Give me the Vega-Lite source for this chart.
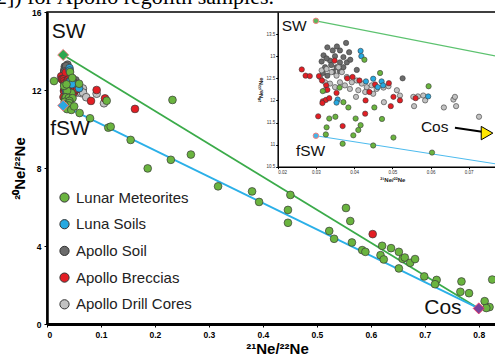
{
"$schema": "https://vega.github.io/schema/vega-lite/v6.json",
"width": 449, "height": 312,
"autosize": {"type": "none"},
"padding": {"left": 47, "top": 12, "right": 0, "bottom": 30},
"config": {"view": {"stroke": "#000", "strokeWidth": 1.5}, "axis": {"grid": false}, "font": "Liberation Sans"},
"title": {"text": "2]) for Apollo regolith samples.", "font": "Liberation Serif", "fontSize": 22, "fontWeight": "normal", "color": "#000", "anchor": "start", "frame": "group", "dx": -51, "dy": 17.5, "offset": 0, "baseline": "alphabetic"},
"datasets": {
"pts": [
{"s":"Apollo Soil","x":0.0330,"y":13.20},{"s":"Apollo Soil","x":0.0344,"y":13.13},{"s":"Apollo Soil","x":0.0363,"y":13.13},{"s":"Apollo Soil","x":0.0379,"y":13.30},{"s":"Apollo Soil","x":0.0387,"y":13.09},{"s":"Apollo Soil","x":0.0320,"y":13.02},{"s":"Apollo Soil","x":0.0337,"y":12.90},{"s":"Apollo Soil","x":0.0363,"y":12.86},{"s":"Apollo Soil","x":0.0381,"y":12.86},{"s":"Apollo Soil","x":0.0324,"y":12.75},{"s":"Apollo Soil","x":0.0354,"y":12.75},{"s":"Apollo Soil","x":0.0330,"y":12.56},{"s":"Apollo Soil","x":0.0363,"y":12.66},{"s":"Apollo Soil","x":0.0407,"y":12.69},{"s":"Apollo Soil","x":0.0527,"y":12.50},{"s":"Apollo Soil","x":0.0350,"y":13.00},{"s":"Apollo Soil","x":0.0372,"y":12.98},{"s":"Apollo Soil","x":0.0340,"y":12.80},{"s":"Apollo Soil","x":0.0315,"y":12.88},{"s":"Apollo Soil","x":0.0372,"y":12.75},{"s":"Apollo Soil","x":0.0345,"y":12.65},{"s":"Apollo Soil","x":0.0318,"y":12.62},{"s":"Apollo Soil","x":0.0390,"y":12.92},{"s":"Apollo Soil","x":0.0355,"y":13.22},{"s":"Apollo Soil","x":0.0328,"y":12.95},
{"s":"Apollo Drill Cores","x":0.0315,"y":12.68},{"s":"Apollo Drill Cores","x":0.0328,"y":12.71},{"s":"Apollo Drill Cores","x":0.0341,"y":12.64},{"s":"Apollo Drill Cores","x":0.0354,"y":12.56},{"s":"Apollo Drill Cores","x":0.0368,"y":12.64},{"s":"Apollo Drill Cores","x":0.0381,"y":12.53},{"s":"Apollo Drill Cores","x":0.0394,"y":12.41},{"s":"Apollo Drill Cores","x":0.0407,"y":12.45},{"s":"Apollo Drill Cores","x":0.0420,"y":12.38},{"s":"Apollo Drill Cores","x":0.0433,"y":12.30},{"s":"Apollo Drill Cores","x":0.0446,"y":12.34},{"s":"Apollo Drill Cores","x":0.0459,"y":12.26},{"s":"Apollo Drill Cores","x":0.0477,"y":12.29},{"s":"Apollo Drill Cores","x":0.0490,"y":12.32},{"s":"Apollo Drill Cores","x":0.0512,"y":12.23},{"s":"Apollo Drill Cores","x":0.0324,"y":12.41},{"s":"Apollo Drill Cores","x":0.0337,"y":12.38},{"s":"Apollo Drill Cores","x":0.0350,"y":12.30},{"s":"Apollo Drill Cores","x":0.0363,"y":12.41},{"s":"Apollo Drill Cores","x":0.0376,"y":12.34},{"s":"Apollo Drill Cores","x":0.0389,"y":12.26},{"s":"Apollo Drill Cores","x":0.0411,"y":12.23},{"s":"Apollo Drill Cores","x":0.0429,"y":12.19},{"s":"Apollo Drill Cores","x":0.0324,"y":12.23},{"s":"Apollo Drill Cores","x":0.0405,"y":12.08},{"s":"Apollo Drill Cores","x":0.0478,"y":11.96},{"s":"Apollo Drill Cores","x":0.0450,"y":12.15},{"s":"Apollo Drill Cores","x":0.0520,"y":12.11},{"s":"Apollo Drill Cores","x":0.0555,"y":12.08},{"s":"Apollo Drill Cores","x":0.0567,"y":12.09},{"s":"Apollo Drill Cores","x":0.0581,"y":12.11},{"s":"Apollo Drill Cores","x":0.0557,"y":11.87},{"s":"Apollo Drill Cores","x":0.0586,"y":12.00},{"s":"Apollo Drill Cores","x":0.0635,"y":11.84},{"s":"Apollo Drill Cores","x":0.0660,"y":12.02},{"s":"Apollo Drill Cores","x":0.0664,"y":12.08},{"s":"Apollo Drill Cores","x":0.0667,"y":11.87},{"s":"Apollo Drill Cores","x":0.0727,"y":11.63},{"s":"Apollo Drill Cores","x":0.0359,"y":12.75},{"s":"Apollo Drill Cores","x":0.0311,"y":12.53},{"s":"Apollo Drill Cores","x":0.092,"y":11.81},{"s":"Apollo Drill Cores","x":0.1056,"y":11.32},
{"s":"Apollo Breccias","x":0.0263,"y":12.70},{"s":"Apollo Breccias","x":0.0273,"y":12.56},{"s":"Apollo Breccias","x":0.0284,"y":12.55},{"s":"Apollo Breccias","x":0.0308,"y":12.55},{"s":"Apollo Breccias","x":0.0316,"y":12.45},{"s":"Apollo Breccias","x":0.0349,"y":12.90},{"s":"Apollo Breccias","x":0.0327,"y":12.34},{"s":"Apollo Breccias","x":0.0330,"y":12.24},{"s":"Apollo Breccias","x":0.0318,"y":11.98},{"s":"Apollo Breccias","x":0.0326,"y":12.01},{"s":"Apollo Breccias","x":0.0317,"y":11.94},{"s":"Apollo Breccias","x":0.0354,"y":12.17},{"s":"Apollo Breccias","x":0.0382,"y":12.50},{"s":"Apollo Breccias","x":0.0396,"y":12.53},{"s":"Apollo Breccias","x":0.0414,"y":12.45},{"s":"Apollo Breccias","x":0.0440,"y":12.19},{"s":"Apollo Breccias","x":0.0430,"y":12.00},{"s":"Apollo Breccias","x":0.0429,"y":11.70},{"s":"Apollo Breccias","x":0.0306,"y":11.64},{"s":"Apollo Breccias","x":0.0370,"y":11.42},{"s":"Apollo Breccias","x":0.0491,"y":12.39},{"s":"Apollo Breccias","x":0.0503,"y":12.08},{"s":"Apollo Breccias","x":0.0496,"y":11.87},{"s":"Apollo Breccias","x":0.0520,"y":12.00},{"s":"Apollo Breccias","x":0.0561,"y":12.05},{"s":"Apollo Breccias","x":0.0335,"y":12.05},{"s":"Apollo Breccias","x":0.0455,"y":12.36},{"s":"Apollo Breccias","x":0.092,"y":12.0},{"s":"Apollo Breccias","x":0.0815,"y":11.44},{"s":"Apollo Breccias","x":0.1075,"y":11.57},{"s":"Apollo Breccias","x":0.163,"y":11.03},{"s":"Apollo Breccias","x":0.6035,"y":4.61},
{"s":"Luna Soils","x":0.0417,"y":13.12},{"s":"Luna Soils","x":0.0419,"y":13.00},{"s":"Luna Soils","x":0.0450,"y":12.49},{"s":"Luna Soils","x":0.0472,"y":12.43},{"s":"Luna Soils","x":0.0431,"y":12.43},{"s":"Luna Soils","x":0.0357,"y":12.02},{"s":"Luna Soils","x":0.0594,"y":12.09},{"s":"Luna Soils","x":0.0476,"y":12.34},{"s":"Luna Soils","x":0.0354,"y":11.95},{"s":"Luna Soils","x":0.0462,"y":12.30},
{"s":"Lunar Meteorites","x":0.0427,"y":12.92},{"s":"Lunar Meteorites","x":0.0468,"y":12.62},{"s":"Lunar Meteorites","x":0.0595,"y":12.32},{"s":"Lunar Meteorites","x":0.0385,"y":11.84},{"s":"Lunar Meteorites","x":0.0453,"y":11.84},{"s":"Lunar Meteorites","x":0.0372,"y":11.96},{"s":"Lunar Meteorites","x":0.0335,"y":11.59},{"s":"Lunar Meteorites","x":0.0351,"y":11.63},{"s":"Lunar Meteorites","x":0.0404,"y":11.59},{"s":"Lunar Meteorites","x":0.0473,"y":11.58},{"s":"Lunar Meteorites","x":0.0328,"y":11.39},{"s":"Lunar Meteorites","x":0.0417,"y":11.44},{"s":"Lunar Meteorites","x":0.0411,"y":11.33},{"s":"Lunar Meteorites","x":0.0398,"y":11.21},{"s":"Lunar Meteorites","x":0.0326,"y":11.23},{"s":"Lunar Meteorites","x":0.0370,"y":11.02},{"s":"Lunar Meteorites","x":0.0450,"y":10.98},{"s":"Lunar Meteorites","x":0.0604,"y":10.82},{"s":"Lunar Meteorites","x":0.0318,"y":12.21},{"s":"Lunar Meteorites","x":0.0362,"y":12.29},{"s":"Lunar Meteorites","x":0.0503,"y":11.16},
{"s":"Lunar Meteorites","x":0.013,"y":12.46},{"s":"Lunar Meteorites","x":0.1106,"y":11.45},{"s":"Lunar Meteorites","x":0.0797,"y":10.55},{"s":"Lunar Meteorites","x":0.1136,"y":10.07},{"s":"Lunar Meteorites","x":0.118,"y":10.12},{"s":"Lunar Meteorites","x":0.155,"y":9.44},{"s":"Lunar Meteorites","x":0.1866,"y":7.98},{"s":"Lunar Meteorites","x":0.2325,"y":11.49},{"s":"Lunar Meteorites","x":0.2295,"y":8.42},{"s":"Lunar Meteorites","x":0.2666,"y":8.69},{"s":"Lunar Meteorites","x":0.317,"y":7.06},{"s":"Lunar Meteorites","x":0.380,"y":6.80},{"s":"Lunar Meteorites","x":0.393,"y":6.26},{"s":"Lunar Meteorites","x":0.451,"y":6.62},{"s":"Lunar Meteorites","x":0.4465,"y":5.85},{"s":"Lunar Meteorites","x":0.4465,"y":5.19},{"s":"Lunar Meteorites","x":0.523,"y":4.77},{"s":"Lunar Meteorites","x":0.532,"y":4.37},{"s":"Lunar Meteorites","x":0.554,"y":5.95},{"s":"Lunar Meteorites","x":0.562,"y":5.28},{"s":"Lunar Meteorites","x":0.565,"y":4.18},{"s":"Lunar Meteorites","x":0.584,"y":3.79},{"s":"Lunar Meteorites","x":0.590,"y":3.70},{"s":"Lunar Meteorites","x":0.621,"y":4.01},{"s":"Lunar Meteorites","x":0.6375,"y":3.89},{"s":"Lunar Meteorites","x":0.618,"y":3.53},{"s":"Lunar Meteorites","x":0.624,"y":3.31},{"s":"Lunar Meteorites","x":0.652,"y":3.70},{"s":"Lunar Meteorites","x":0.659,"y":3.34},{"s":"Lunar Meteorites","x":0.663,"y":3.41},{"s":"Lunar Meteorites","x":0.673,"y":3.14},{"s":"Lunar Meteorites","x":0.682,"y":3.33},{"s":"Lunar Meteorites","x":0.652,"y":2.85},{"s":"Lunar Meteorites","x":0.699,"y":2.44},{"s":"Lunar Meteorites","x":0.722,"y":2.26},{"s":"Lunar Meteorites","x":0.719,"y":2.04},{"s":"Lunar Meteorites","x":0.768,"y":2.18},{"s":"Lunar Meteorites","x":0.766,"y":1.65},{"s":"Lunar Meteorites","x":0.782,"y":1.58},{"s":"Lunar Meteorites","x":0.825,"y":2.28},{"s":"Lunar Meteorites","x":0.811,"y":1.17},{"s":"Lunar Meteorites","x":0.820,"y":0.87},{"s":"Lunar Meteorites","x":0.814,"y":0.82}
]
},
"layer": [
{"layer": [
 {"data": {"values": [{"x":0.03,"y":13.8},{"x":0.8,"y":0.8}]},
  "mark": {"type":"line","color":"#3bab4a","strokeWidth":1.8},
  "encoding": {
   "x": {"field":"x","type":"quantitative","scale":{"domain":[0,0.832],"nice":false,"zero":false},
     "axis":{"title":"²¹Ne/²²Ne","values":[0,0.1,0.2,0.3,0.4,0.5,0.6,0.7,0.8],"format":"~g","labelFont":"Liberation Sans","labelFontWeight":"bold","labelFontSize":8.5,"labelColor":"#000","labelPadding":3,"tickSize":3,"tickColor":"#000","domainColor":"#000","domainWidth":3,"titleFont":"Liberation Sans","titleFontSize":15,"titleFontWeight":"bold","titleColor":"#000","titlePadding":3,"titleX":230}},
   "y": {"field":"y","type":"quantitative","scale":{"domain":[0,16],"nice":false,"zero":false},
     "axis":{"title":"²⁰Ne/²²Ne","values":[0,2,4,6,8,10,12,14,16],"format":"~g","labelFont":"Liberation Sans","labelFontWeight":"bold","labelFontSize":8.5,"labelColor":"#000","labelPadding":3,"tickSize":3,"tickColor":"#000","domainColor":"#000","domainWidth":2.5,"titleFont":"Liberation Sans","titleFontSize":15,"titleFontWeight":"bold","titleColor":"#000","titlePadding":4}}
  }},
 {"data": {"values": [{"x":0.03,"y":11.2},{"x":0.8,"y":0.8}]},
  "mark": {"type":"line","color":"#2bb0e8","strokeWidth":1.8},
  "encoding": {
   "x": {"field":"x","type":"quantitative","scale":{"domain":[0,0.832],"nice":false,"zero":false}},
   "y": {"field":"y","type":"quantitative","scale":{"domain":[0,16],"nice":false,"zero":false}}
  }},
 {"data": {"name":"pts"},
  "mark": {"type":"point","filled":true,"opacity":1,"stroke":"#3a3a3a","strokeWidth":0.7,"size":60},
  "encoding": {
   "x": {"field":"x","type":"quantitative","scale":{"domain":[0,0.832],"nice":false,"zero":false}},
   "y": {"field":"y","type":"quantitative","scale":{"domain":[0,16],"nice":false,"zero":false}},
   "fill": {"field":"s","type":"nominal","scale":{"domain":["Lunar Meteorites","Luna Soils","Apollo Soil","Apollo Breccias","Apollo Drill Cores"],"range":["#6ab43f","#27a9e1","#6b6b6b","#e31e24","#c2c2c2"]},
     "legend":{"orient":"none","legendX":10,"legendY":178,"title":null,"labelFont":"Liberation Sans","labelFontSize":15,"labelColor":"#222","symbolType":"circle","symbolSize":85,"symbolStrokeColor":"#333","symbolStrokeWidth":1,"rowPadding":10.7,"labelOffset":4,"padding":0}}
  }},
 {"data": {"values": [{"x":0.03,"y":13.8}]},
  "mark": {"type":"point","shape":"diamond","filled":true,"opacity":1,"fill":"#2ea84e","stroke":"#f07a7a","strokeWidth":1,"size":120},
  "encoding": {
   "x": {"field":"x","type":"quantitative","scale":{"domain":[0,0.832],"nice":false,"zero":false}},
   "y": {"field":"y","type":"quantitative","scale":{"domain":[0,16],"nice":false,"zero":false}}
  }},
 {"data": {"values": [{"x":0.03,"y":11.2}]},
  "mark": {"type":"point","shape":"diamond","filled":true,"opacity":1,"fill":"#2aa8e0","stroke":"#f07a7a","strokeWidth":1,"size":120},
  "encoding": {
   "x": {"field":"x","type":"quantitative","scale":{"domain":[0,0.832],"nice":false,"zero":false}},
   "y": {"field":"y","type":"quantitative","scale":{"domain":[0,16],"nice":false,"zero":false}}
  }},
 {"data": {"values": [{"x":0.8,"y":0.8}]},
  "mark": {"type":"point","shape":"diamond","filled":true,"opacity":1,"fill":"#7b4199","stroke":"#e8406e","strokeWidth":1,"size":120},
  "encoding": {
   "x": {"field":"x","type":"quantitative","scale":{"domain":[0,0.832],"nice":false,"zero":false}},
   "y": {"field":"y","type":"quantitative","scale":{"domain":[0,16],"nice":false,"zero":false}}
  }},
 {"data": {"values": [{"t":"SW","x":0.040,"y":14.99},{"t":"fSW","x":0.0426,"y":10.0},{"t":"Cos","x":0.7337,"y":0.795}]},
  "mark": {"type":"text","font":"Liberation Sans","fontSize":21,"color":"#111","align":"center","baseline":"middle"},
  "encoding": {
   "x": {"field":"x","type":"quantitative","scale":{"domain":[0,0.832],"nice":false,"zero":false}},
   "y": {"field":"y","type":"quantitative","scale":{"domain":[0,16],"nice":false,"zero":false}},
   "text": {"field":"t"}
  }}
]},
{"layer": [
 {"data": {"values": [{"x":0.03,"y":13.8},{"x":0.08,"y":12.955}]},
  "mark": {"type":"line","color":"#5cc26f","strokeWidth":1.2},
  "encoding": {
   "x": {"field":"x","type":"quantitative","scale":{"domain":[0.02,0.08],"range":[230.7,459.9],"nice":false,"zero":false},
     "axis":{"orient":"bottom","offset":-157.3,"title":"²¹Ne/²²Ne","values":[0.02,0.03,0.04,0.05,0.06,0.07],"format":".2f","labelFont":"Liberation Sans","labelFontSize":4.5,"labelColor":"#333","labelPadding":1,"tickSize":2,"tickColor":"#000","domainColor":"#000","domainWidth":1.5,"titleFont":"Liberation Sans","titleFontSize":6,"titleFontWeight":"bold","titleColor":"#222","titlePadding":2}},
   "y": {"field":"y","type":"quantitative","scale":{"domain":[10.5,14],"range":[154.7,0],"nice":false,"zero":false},
     "axis":{"orient":"left","offset":-230.7,"title":"²⁰Ne/²²Ne","values":[10.5,11,11.5,12,12.5,13,13.5],"format":"~g","labelFont":"Liberation Sans","labelFontSize":4.5,"labelColor":"#333","labelPadding":1,"tickSize":2,"tickColor":"#000","domainColor":"#000","domainWidth":1.5,"titleFont":"Liberation Sans","titleFontSize":6,"titleFontWeight":"bold","titleColor":"#222","titlePadding":2}}
  }},
 {"data": {"values": [{"x":0.03,"y":11.2},{"x":0.08,"y":10.525}]},
  "mark": {"type":"line","color":"#4dbbee","strokeWidth":1.1},
  "encoding": {
   "x": {"field":"x","type":"quantitative","scale":{"domain":[0.02,0.08],"range":[230.7,459.9],"nice":false,"zero":false}},
   "y": {"field":"y","type":"quantitative","scale":{"domain":[10.5,14],"range":[154.7,0],"nice":false,"zero":false}}
  }},
 {"data": {"name":"pts"},
  "transform": [{"filter": {"and": [{"field":"x","range":[0.02,0.08]},{"field":"y","range":[10.5,14]}]}}],
  "mark": {"type":"point","filled":true,"opacity":1,"stroke":"#3a3a3a","strokeWidth":0.6,"size":28},
  "encoding": {
   "x": {"field":"x","type":"quantitative","scale":{"domain":[0.02,0.08],"range":[230.7,459.9],"nice":false,"zero":false}},
   "y": {"field":"y","type":"quantitative","scale":{"domain":[10.5,14],"range":[154.7,0],"nice":false,"zero":false}},
   "fill": {"field":"s","type":"nominal"}
  }},
 {"data": {"values": [{"x":0.03,"y":13.8}]},
  "mark": {"type":"point","shape":"circle","filled":true,"opacity":1,"fill":"#5cb85c","stroke":"#f08080","strokeWidth":1,"size":30},
  "encoding": {
   "x": {"field":"x","type":"quantitative","scale":{"domain":[0.02,0.08],"range":[230.7,459.9],"nice":false,"zero":false}},
   "y": {"field":"y","type":"quantitative","scale":{"domain":[10.5,14],"range":[154.7,0],"nice":false,"zero":false}}
  }},
 {"data": {"values": [{"x":0.03,"y":11.2}]},
  "mark": {"type":"point","shape":"circle","filled":true,"opacity":1,"fill":"#45b4e6","stroke":"#f08080","strokeWidth":1,"size":30},
  "encoding": {
   "x": {"field":"x","type":"quantitative","scale":{"domain":[0.02,0.08],"range":[230.7,459.9],"nice":false,"zero":false}},
   "y": {"field":"y","type":"quantitative","scale":{"domain":[10.5,14],"range":[154.7,0],"nice":false,"zero":false}}
  }},
 {"data": {"values": [{"x":0.0664,"y":11.38},{"x":0.0735,"y":11.29}]},
  "mark": {"type":"line","color":"#000","strokeWidth":2},
  "encoding": {
   "x": {"field":"x","type":"quantitative","scale":{"domain":[0.02,0.08],"range":[230.7,459.9],"nice":false,"zero":false}},
   "y": {"field":"y","type":"quantitative","scale":{"domain":[10.5,14],"range":[154.7,0],"nice":false,"zero":false}}
  }},
 {"data": {"values": [{"x":0.0748,"y":11.26}]},
  "mark": {"type":"point","shape":"triangle-right","filled":true,"opacity":1,"fill":"#ffe600","stroke":"#000","strokeWidth":1,"size":180},
  "encoding": {
   "x": {"field":"x","type":"quantitative","scale":{"domain":[0.02,0.08],"range":[230.7,459.9],"nice":false,"zero":false}},
   "y": {"field":"y","type":"quantitative","scale":{"domain":[10.5,14],"range":[154.7,0],"nice":false,"zero":false}}
  }},
 {"data": {"values": [{"t":"SW","x":0.0243,"y":13.68},{"t":"fSW","x":0.0286,"y":10.85},{"t":"Cos","x":0.0611,"y":11.39}]},
  "mark": {"type":"text","font":"Liberation Sans","fontSize":15.5,"color":"#111","align":"center","baseline":"middle"},
  "encoding": {
   "x": {"field":"x","type":"quantitative","scale":{"domain":[0.02,0.08],"range":[230.7,459.9],"nice":false,"zero":false}},
   "y": {"field":"y","type":"quantitative","scale":{"domain":[10.5,14],"range":[154.7,0],"nice":false,"zero":false}},
   "text": {"field":"t"}
  }}
]}
],
"resolve": {"scale": {"x": "independent", "y": "independent"}}
}
